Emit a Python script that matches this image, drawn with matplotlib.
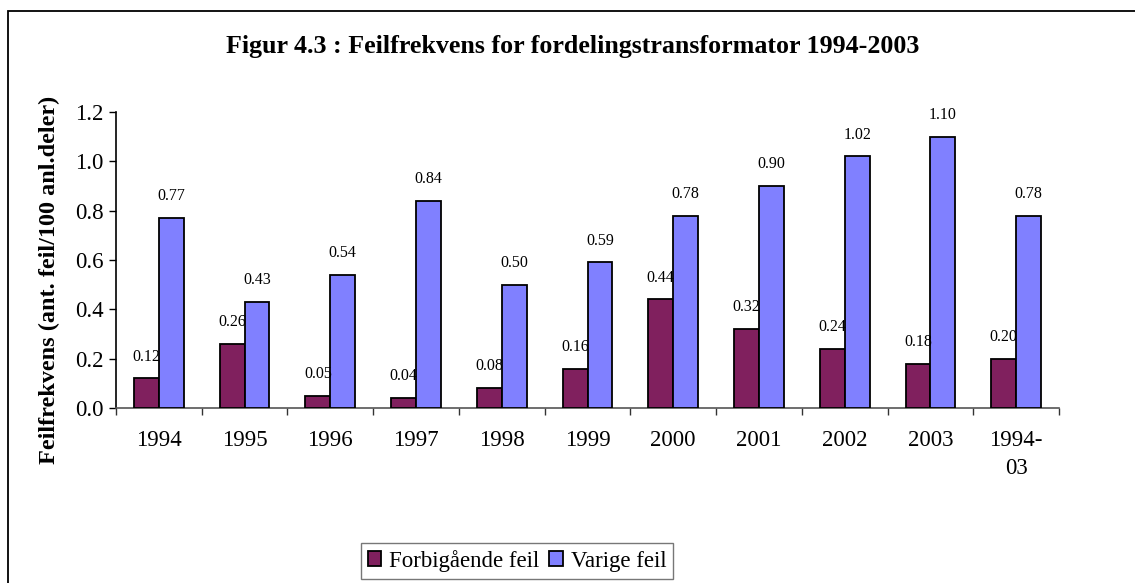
import matplotlib
matplotlib.use("Agg")
import matplotlib.pyplot as plt
from matplotlib.patches import Rectangle
import numpy as np

categories = ["1994", "1995", "1996", "1997", "1998", "1999", "2000", "2001", "2002", "2003", "1994-\n03"]
forbigaaende = [0.12, 0.26, 0.05, 0.04, 0.08, 0.16, 0.44, 0.32, 0.24, 0.18, 0.20]
varige = [0.77, 0.43, 0.54, 0.84, 0.50, 0.59, 0.78, 0.90, 1.02, 1.10, 0.78]
series_names = ["Forbigående feil", "Varige feil"]
yticks = [0.0, 0.2, 0.4, 0.6, 0.8, 1.0, 1.2]

plt.rcParams['font.family'] = ['Liberation Serif', 'DejaVu Serif']

fig = plt.figure(figsize=(11.35, 5.83), dpi=100)
W, H = 1135, 583

# outer frame
fig.add_artist(Rectangle((8 / W, -0.1), 1.2, 1 - 11 / H + 0.1, transform=fig.transFigure,
                         fill=False, edgecolor="black", linewidth=1.3))

ax = fig.add_axes([116 / W, 1 - 408 / H, (1059 - 116) / W, (408 - 112) / H])

x = np.arange(len(categories))
bw = 0.29
c1, c2 = "#80205E", "#8080FF"
b1 = ax.bar(x - bw / 2, forbigaaende, bw, color=c1, edgecolor="black", linewidth=1.3,
            label=series_names[0], zorder=3)
b2 = ax.bar(x + bw / 2, varige, bw, color=c2, edgecolor="black", linewidth=1.3,
            label=series_names[1], zorder=3)

for rects, vals in ((b1, forbigaaende), (b2, varige)):
    for r, v in zip(rects, vals):
        ax.annotate(f"{v:.2f}", (r.get_x() + r.get_width() / 2, v), xytext=(0, 10),
                    textcoords="offset points", ha="center", va="bottom", fontsize=11.5)

ax.set_xlim(-0.5, len(categories) - 0.5)
ax.set_ylim(0, 1.2)
ax.set_yticks(yticks)
ax.set_yticklabels([f"{t:.1f}" for t in yticks], fontsize=16.5)
ax.set_xticks(x)
ax.set_xticklabels(categories, fontsize=16.5, linespacing=1.45)
ax.set_xticks(np.arange(-0.5, len(categories)), minor=True)
ax.tick_params(axis="x", which="major", length=0, pad=16)
ax.tick_params(axis="x", which="minor", length=5, width=1, color="#333333", direction="out")
ax.tick_params(axis="y", length=5, width=1, direction="out", pad=4)

for s in ("top", "right"):
    ax.spines[s].set_visible(False)
ax.spines["bottom"].set_color("#555555")
ax.spines["bottom"].set_linewidth(1.2)
ax.spines["left"].set_linewidth(1.2)

fig.text(49 / W, 1 - 280 / H, "Feilfrekvens (ant. feil/100 anl.deler)", rotation=90,
         ha="center", va="center", fontsize=17.5, fontweight="bold")

fig.text(573 / W, 1 - 47 / H, "Figur 4.3 : Feilfrekvens for fordelingstransformator 1994-2003",
         ha="center", va="center", fontsize=18.7, fontweight="bold")

leg = fig.legend(handles=[b1, b2], labels=series_names, loc="upper center",
                 bbox_to_anchor=(517 / W, 1 - 543 / H), ncol=2, fontsize=16.5,
                 frameon=True, fancybox=False, edgecolor="#555555",
                 handlelength=0.6, handleheight=0.6, handletextpad=0.35, columnspacing=0.4,
                 borderpad=0.3, borderaxespad=0)
leg.get_frame().set_linewidth(1.0)

fig.savefig("out.png", dpi=100)
